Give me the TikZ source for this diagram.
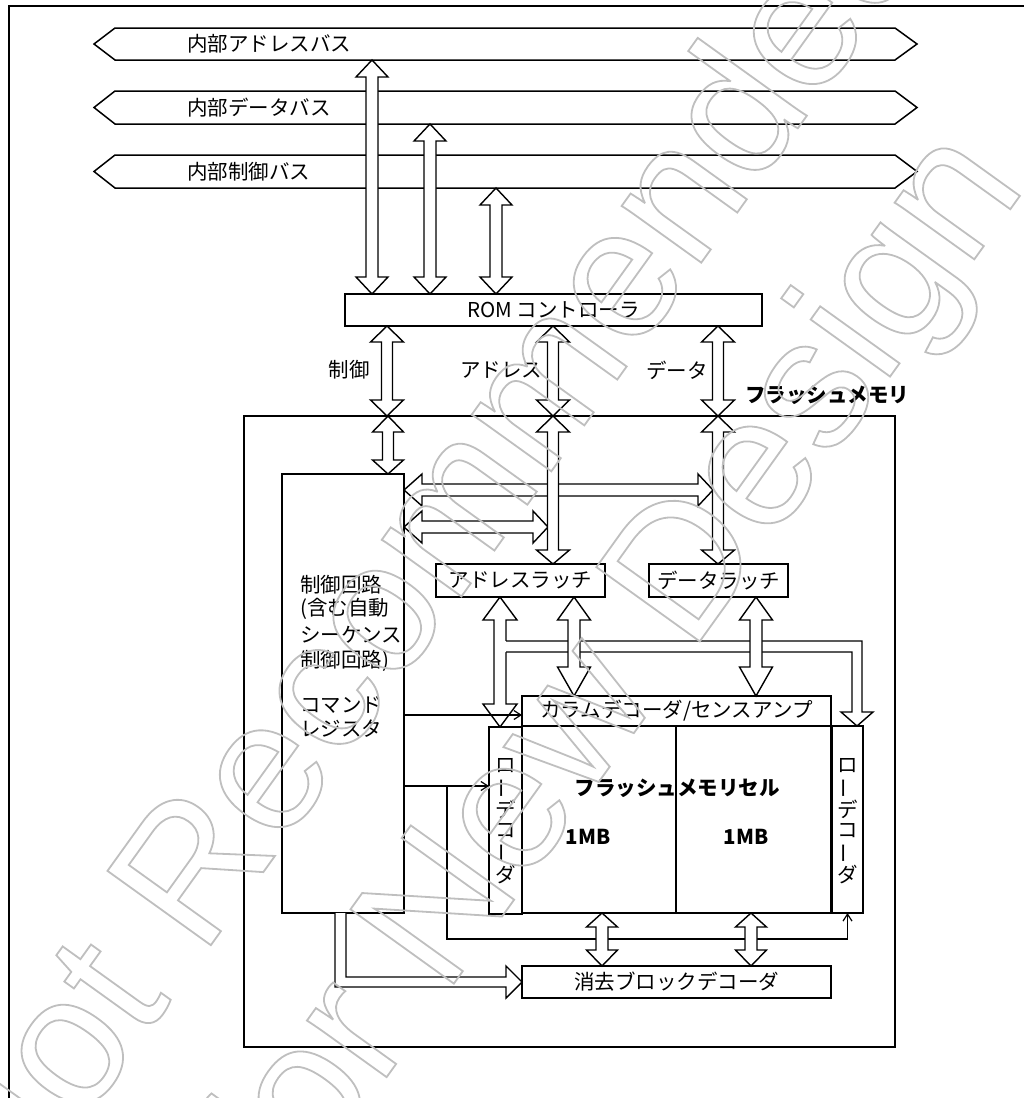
\documentclass[tikz,border=0pt]{standalone}
\usepackage{fontspec}
\setmainfont{Noto Sans CJK JP}
\newfontfamily\wmfont{Liberation Sans}
\usepackage{graphicx}
\usetikzlibrary{arrows.meta}
\tikzset{
  box/.style={draw, line width=1.5pt, inner sep=0pt, outer sep=0pt, anchor=north west, font=\fontsize{20.5}{20.5}\selectfont},
  har/.style={draw, fill=white, line width=1.4pt, line join=miter},
  harfill/.style={fill=white},
  harline/.style={draw, line width=1.4pt, line join=miter},
  thinarr/.style={line width=1.3pt, -{Straight Barb[length=7pt,width=9pt,line width=1.2pt]}},
  thinline/.style={line width=1.3pt},
  lab/.style={font=\fontsize{20.5}{20.5}\selectfont, inner sep=0pt},
  blab/.style={font=\fontsize{20.5}{20.5}\selectfont\bfseries, inner sep=0pt},
  busshape/.style={draw, line width=1.5pt, line join=miter},
  wm/.style={rotate=54.3, anchor=base west, inner sep=0pt, font=\wmfont\fontsize{185}{185}\selectfont},
}
% vertical double hollow arrow: x, top tip y, bottom tip y, half shaft, half head, top head length, bottom head length
\newcommand\vbi[7]{%
  \draw[har] (#1,#2) -- ({#1+#5},{#2+#6}) -- ({#1+#4},{#2+#6}) -- ({#1+#4},{#3-#7}) -- ({#1+#5},{#3-#7}) -- (#1,#3) -- ({#1-#5},{#3-#7}) -- ({#1-#4},{#3-#7}) -- ({#1-#4},{#2+#6}) -- ({#1-#5},{#2+#6}) -- cycle;}
% horizontal double hollow arrow: y, left tip x, right tip x, half shaft, half head, left head length, right head length
\newcommand\hbi[7]{%
  \draw[har] (#2,#1) -- ({#2+#6},{#1-#5}) -- ({#2+#6},{#1-#4}) -- ({#3-#7},{#1-#4}) -- ({#3-#7},{#1-#5}) -- (#3,#1) -- ({#3-#7},{#1+#5}) -- ({#3-#7},{#1+#4}) -- ({#2+#6},{#1+#4}) -- ({#2+#6},{#1+#5}) -- cycle;}
\newcommand\wmon{\special{pdf:literal direct 1 Tr 1.8 w 0.75 G}}
\newcommand\wmoff{\special{pdf:literal direct 0 Tr 0 G}}
\begin{document}
\begin{tikzpicture}[x=1pt, y=-1pt]
\useasboundingbox (0,0) rectangle (1024,1098);
% outer frame
\draw[line width=1.6pt] (9,1110) -- (9,6) -- (1040,6);
% buses
\draw[busshape] (94,44) -- (115,28) -- (895,28) -- (917,44) -- (895,60) -- (115,60) -- cycle;
\draw[busshape] (94,107.5) -- (115,91) -- (895,91) -- (917,107.5) -- (895,124) -- (115,124) -- cycle;
\draw[busshape] (94,171.5) -- (115,155) -- (895,155) -- (917,171.5) -- (895,188) -- (115,188) -- cycle;
\node[lab, anchor=west] (bus1) at (187,44) {内部アドレスバス};
\node[lab, anchor=west] (bus2) at (187,107.5) {内部データバス};
\node[lab, anchor=west] (bus3) at (187,171.5) {内部制御バス};
% bus <-> ROM arrows
\vbi{372}{60}{294}{6}{16}{17}{17}
\vbi{430}{124}{294}{6}{16}{17}{17}
\vbi{496}{188}{294}{6}{16}{17}{17}
% ROM controller
\node[box, minimum width=417pt, minimum height=32pt] (rom) at (345,294) {};
\node[lab] (romt) at (rom.center) {ROM コントローラ};
% flash memory frame
\node[box, line width=2.5pt, minimum width=651pt, minimum height=631pt] (flash) at (244,416) {};
\node[blab, anchor=west] (flasht) at (745,395) {フラッシュメモリ};
% ROM <-> flash arrows
\vbi{387}{326}{416}{5.5}{16.5}{16}{16}
\vbi{553}{326}{416}{5.5}{16.5}{16}{16}
\vbi{718}{326}{416}{5.5}{16.5}{16}{16}
\node[lab, anchor=east] (l1) at (370,370) {制御};
\node[lab, anchor=west] (l2) at (460,370) {アドレス};
\node[lab, anchor=west] (l3) at (646,370) {データ};
% control circuit
\node[box, minimum width=122pt, minimum height=439pt] (ctrl) at (282,474) {};
% horizontal arrows from control circuit
\hbi{490}{404}{713}{6}{16}{18}{15}
\hbi{527}{404}{548}{6}{16}{18}{15}
% vertical arrows inside flash
\vbi{388}{416}{474}{5.5}{15.5}{16}{14}
\vbi{553}{416}{564}{5.5}{16.5}{16}{14}
\vbi{718}{416}{564}{5.5}{16.5}{16}{14}
% latches
\node[box, minimum width=169pt, minimum height=33pt] (alatch) at (436,564) {アドレスラッチ};
\node[box, minimum width=139pt, minimum height=33pt] (dlatch) at (649,564) {データラッチ};
% decoders and cells
\node[box, minimum width=309pt, minimum height=30pt] (coldec) at (522,696) {カラムデコーダ/センスアンプ};
\node[box, minimum width=309pt, minimum height=187pt] (cell) at (522,726) {};
\draw[line width=1.5pt] (cell.north) ++(-0.5,0) coordinate (divt) -- (divt |- cell.south);
\node[box, minimum width=33pt, minimum height=187pt] (rowl) at (489,727) {};
\node[box, minimum width=31pt, minimum height=187pt] (rowr) at (832,726) {};
\node[box, minimum width=309pt, minimum height=32pt] (erase) at (522,966) {消去ブロックデコーダ};
% latch -> decoders
\vbi{500}{597}{727}{6}{17}{23}{23}
\fill[harfill] (499,641) -- (862,641) -- (862,712) -- (873,712) -- (857,726) -- (841,712) -- (852,712) -- (852,652) -- (499,652) -- cycle;
\draw[harline] (506,641) -- (862,641) -- (862,712) -- (873,712) -- (857,726) -- (841,712) -- (852,712) -- (852,652) -- (506,652);
\vbi{574}{597}{696}{6}{16.5}{23}{29}
\vbi{756}{597}{696}{6}{16.5}{23}{29}
% thin control lines
\draw[thinarr] (ctrl.east |- 0,715) -- (coldec.west |- 0,715);
\draw[thinarr] (ctrl.east |- 0,786) -- (rowl.west |- 0,786);
\draw[thinarr] (447,786) -- (447,939) -- (rowr.south |- 0,939) -- (rowr.south);
% cell <-> erase decoder
\vbi{602}{913}{966}{6}{15.5}{14}{16}
\vbi{751}{913}{966}{6}{15.5}{14}{16}
% L-shaped arrow from control to erase decoder
\fill[harfill] (335,913) -- (335,987) -- (506,987) -- (506,998) -- (522,982) -- (506,966) -- (506,977) -- (346,977) -- (346,913) -- cycle;
\draw[harline] (335,913) -- (335,987) -- (506,987) -- (506,998) -- (522,982) -- (506,966) -- (506,977) -- (346,977) -- (346,913);
% texts
\node[blab] (cellt) at (677,788) {フラッシュメモリセル};
\node[blab] (mb1) at (588,837) {1MB};
\node[blab] (mb2) at (746,837) {1MB};
\node[lab, align=center, font=\fontsize{20.5}{20.5}\selectfont] (rowlt) at (505.5,821) {ロ\\\rotatebox[origin=c]{90}{ー}\\デ\\コ\\\rotatebox[origin=c]{90}{ー}\\ダ};
\node[lab, align=center, font=\fontsize{20.5}{20.5}\selectfont] (rowrt) at (847.5,821) {ロ\\\rotatebox[origin=c]{90}{ー}\\デ\\コ\\\rotatebox[origin=c]{90}{ー}\\ダ};
\node[lab, anchor=west] (c1) at (300,585) {制御回路};
\node[lab, anchor=west] (c2) at (300,609) {(含む自動};
\node[lab, anchor=west] (c3) at (300,635) {シーケンス};
\node[lab, anchor=west] (c4) at (300,661) {制御回路)};
\node[lab, anchor=west] (c5) at (300,705) {コマンド};
\node[lab, anchor=west] (c6) at (300,729) {レジスタ};
% watermark
\node[wm] (wm1) at (4,1233) {\wmon Not Recommended\wmoff};
\node[wm] (wm2) at (289,1213) {\wmon for New Design\wmoff};
\end{tikzpicture}
\end{document}
